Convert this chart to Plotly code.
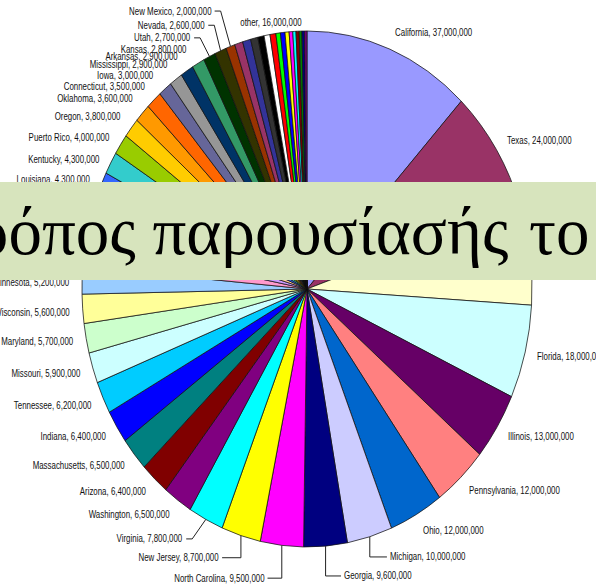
import json
import math
import plotly.graph_objects as go

# ---- data -------------------------------------------------------------
states = ["California", "Texas", "New York", "Florida", "Illinois", "Pennsylvania",
          "Ohio", "Michigan", "Georgia", "North Carolina", "New Jersey", "Virginia",
          "Washington", "Arizona", "Massachusetts", "Indiana", "Tennessee", "Missouri",
          "Maryland", "Wisconsin", "Minnesota", "Colorado", "Alabama", "South Carolina",
          "Louisiana", "Kentucky", "Puerto Rico", "Oregon", "Oklahoma", "Connecticut",
          "Iowa", "Mississippi", "Arkansas", "Kansas", "Utah", "Nevada", "New Mexico"]
population = [37_000_000, 24_000_000, 19_000_000, 18_000_000, 13_000_000, 12_000_000,
              12_000_000, 10_000_000, 9_600_000, 9_500_000, 8_700_000, 7_800_000,
              6_500_000, 6_400_000, 6_500_000, 6_400_000, 6_200_000, 5_900_000,
              5_700_000, 5_600_000, 5_200_000, 5_000_000, 4_700_000, 4_600_000,
              4_300_000, 4_300_000, 4_000_000, 3_800_000, 3_600_000, 3_500_000,
              3_000_000, 2_900_000, 2_900_000, 2_800_000, 2_700_000, 2_600_000, 2_000_000]

# smallest entries, shown as thin slices and labelled together as "other"
other_states = ["West Virginia", "Nebraska", "Idaho", "Hawaii", "Maine", "New Hampshire",
                "Rhode Island", "Montana", "Delaware", "South Dakota", "Alaska",
                "North Dakota", "Vermont", "District of Columbia", "Wyoming"]
other_population = [1_800_000, 1_800_000, 1_600_000, 1_400_000, 1_300_000, 1_300_000,
                    1_000_000, 1_000_000, 900_000, 800_000, 700_000, 700_000,
                    600_000, 600_000, 500_000]
other_label = "other"

banner_words = ["ρόπος παρουσίασής", "το"]

# ---- styling ----------------------------------------------------------
palette = ["#9999FF", "#993366", "#FFFFCC", "#CCFFFF", "#660066", "#FF8080", "#0066CC",
           "#CCCCFF", "#000080", "#FF00FF", "#FFFF00", "#00FFFF", "#800080", "#800000",
           "#008080", "#0000FF", "#00CCFF", "#CCFFFF", "#CCFFCC", "#FFFF99", "#99CCFF",
           "#FF99CC", "#CC99FF", "#FFCC99", "#3366FF", "#33CCCC", "#99CC00", "#FFCC00",
           "#FF9900", "#FF6600", "#666699", "#969696", "#003366", "#339966", "#003300",
           "#333300", "#993300"]
other_palette = ["#993366", "#333399", "#333333", "#000000", "#FFFFFF", "#FF0000",
                 "#00FF00", "#0000FF", "#FFFF00", "#FF00FF", "#00FFFF", "#800000",
                 "#008000", "#000080", "#800080"]

W, H = 596, 585
CX, CY = 307, 289          # pie centre (px from top-left)
RX, RY = 225, 258          # horizontal / vertical radius of the stretched pie
K = RY / RX
LABEL_SQUEEZE = 0.79       # horizontal squeeze of the slice labels

label_font = dict(family="Liberation Sans, Arial, sans-serif", size=10, color="#111111")

# hand-tuned label offsets (px) from their default spot beside the slice
label_nudge = {
    "Michigan": (16, 3), "Georgia": (16.5, 12), "North Carolina": (-15, 15),
    "New Jersey": (-17.5, 5), "Virginia": (-16.5, 3.5), "Minnesota": (0, 3),
    "Wisconsin": (0, 2), "Louisiana": (0, 4), "Kentucky": (0, 5.5), "Puerto Rico": (0, 3.5),
    "Oklahoma": (0, -2), "Iowa": (-3, 1), "Arkansas": (-2, 1), "Kansas": (-5, 2.5),
    "Utah": (-12.5, -2.5), "Nevada": (-10, -9), "New Mexico": (-14, -18.5),
    other_label: (2, 6),
}
leader_labels = {"Michigan", "Georgia", "North Carolina", "New Jersey", "Virginia",
                 "Utah", "Nevada", "New Mexico"}

# ---- figure -----------------------------------------------------------
all_labels = states + other_states
all_values = population + other_population
all_colors = palette + other_palette

fig = go.Figure(go.Pie(
    labels=all_labels,
    values=all_values,
    sort=False,
    direction="clockwise",
    rotation=0,
    textinfo="none",
    hoverinfo="label+value",
    marker=dict(colors=all_colors, line=dict(color="#111111", width=0.7)),
    domain=dict(x=[(CX - RX) / W, (CX + RX) / W],
                y=[(H - CY - RX) / H, (H - CY + RX) / H]),
))


def px(x, y):
    return x / W, 1 - y / H


# slice labels, placed around the pie from each slice's mid angle
total = sum(all_values)
groups = [(n, v) for n, v in zip(states, population)] + [(other_label, sum(other_population))]
annotations = []
anchors = []
shapes = []
start = 0
for name, val in groups:
    theta = math.radians((start + val / 2) / total * 360)
    start += val
    s, c = math.sin(theta), math.cos(theta)
    lx = CX + RX * 1.05 * s
    ly = CY - RY * 1.05 * c - 5 * c
    dx, dy = label_nudge.get(name, (0, 0))
    lx += dx
    ly += dy
    if c > 0.95:
        anchor = "center"
    elif s >= 0:
        anchor = "left"
    else:
        anchor = "right"
    annotations.append(dict(
        x=px(lx, ly)[0], y=px(lx, ly)[1], xref="paper", yref="paper",
        text=f"{name}, {val:,}", showarrow=False, xanchor=anchor, yanchor="middle",
        font=label_font, borderpad=0,
    ))
    anchors.append(anchor)
    if name in leader_labels:
        ex, ey = CX + RX * s, CY - RY * c
        side = 1 if anchor == "right" else -1
        ax = lx + side * 2
        bx = ex if c < -0.9 else lx + side * 8
        for (x0, y0, x1, y1) in [(ex, ey, bx, ly), (bx, ly, ax, ly)]:
            p0, p1 = px(x0, y0), px(x1, y1)
            shapes.append(dict(type="line", xref="paper", yref="paper",
                               x0=p0[0], y0=p0[1], x1=p1[0], y1=p1[1],
                               line=dict(color="#222222", width=1), layer="above"))

# title band laid over the chart
band_top, band_bottom = 182, 280
banner_font = dict(family="Liberation Serif, DejaVu Serif, serif", size=67, color="#000000")
annotations.append(dict(
    x=-25 / W, y=1 - band_top / H, xref="paper", yref="paper",
    xanchor="left", yanchor="top", showarrow=False,
    text=banner_words[0], align="left", valign="middle",
    width=660, height=band_bottom - band_top, borderpad=0, borderwidth=0,
    bgcolor="#D7E4BD", font=banner_font,
))
annotations.append(dict(
    x=528 / W, y=1 - (band_top + band_bottom) / 2 / H, xref="paper", yref="paper",
    xanchor="left", yanchor="middle", showarrow=False,
    text=banner_words[1], font=banner_font, borderpad=0,
))

fig.update_layout(
    width=W, height=H,
    margin=dict(l=0, r=0, t=0, b=0),
    paper_bgcolor="#FFFFFF", plot_bgcolor="#FFFFFF",
    showlegend=False,
    annotations=annotations,
    shapes=shapes,
)

# stretch the pie vertically about its centre so it becomes an ellipse,
# and squeeze the slice labels horizontally about their anchor edge
post_js = (
    "var gd = document.getElementById('{plot_id}');"
    "var layer = gd.querySelector('.pielayer');"
    "if (layer) { layer.setAttribute('transform', 'matrix(1,0,0,"
    + f"{K:.5f},0,{CY * (1 - K):.3f}" + ")'); }"
    "var anchors = " + json.dumps(anchors) + ";"
    "var sq = " + str(LABEL_SQUEEZE) + ";"
    "gd.querySelectorAll('g.annotation').forEach(function(g){"
    "  var i = +g.getAttribute('data-index');"
    "  var a = anchors[i];"
    "  if (!a) return;"
    "  var t = g.querySelector('text.annotation-text');"
    "  if (!t) return;"
    "  var b = t.getBBox();"
    "  var ox = a === 'left' ? b.x : (a === 'right' ? b.x + b.width : b.x + b.width / 2);"
    "  t.setAttribute('transform', 'translate(' + ox + ',0) scale(' + sq + ',1) translate(' + (-ox) + ',0)');"
    "});"
)

fig.write_html("out.html", post_script=post_js)
